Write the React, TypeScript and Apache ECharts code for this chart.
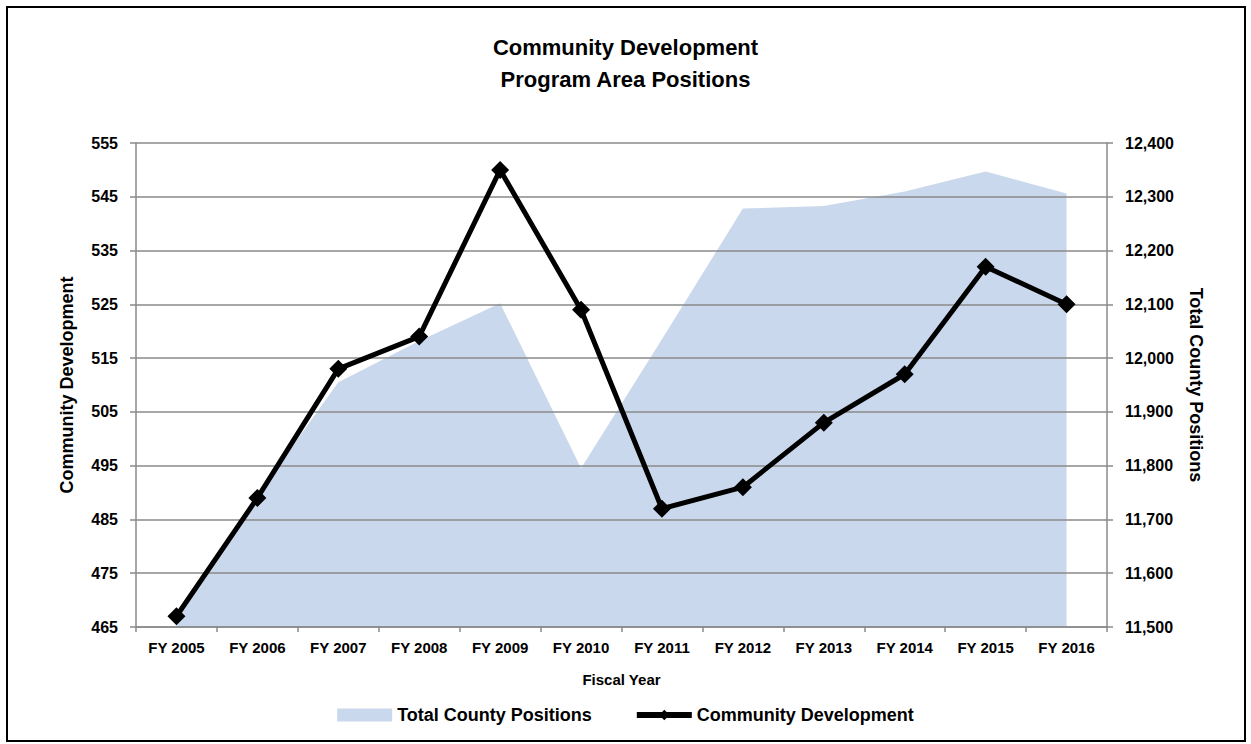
import React, { useEffect, useRef } from "react";
import * as echarts from "echarts";

const categories = ["FY 2005", "FY 2006", "FY 2007", "FY 2008", "FY 2009", "FY 2010", "FY 2011", "FY 2012", "FY 2013", "FY 2014", "FY 2015", "FY 2016"];
const communityDevelopment = [467, 489, 513, 519, 550, 524, 487, 491, 503, 512, 532, 525];
const totalCountyPositions = [11510, 11745, 11955, 12032, 12102, 11795, 12035, 12278, 12283, 12310, 12347, 12306];
const leftTicks = [465, 475, 485, 495, 505, 515, 525, 535, 545, 555];

const FONT = "'Liberation Sans', Arial, sans-serif";
const AREA = "#c9d8ec";

export default function App() {
  const ref = useRef<HTMLDivElement>(null);
  useEffect(() => {
    if (!ref.current) return;
    const chart = echarts.init(ref.current, null, { renderer: "svg" });
    const axisGray = "#8a8a8a";
    chart.setOption({
      animation: false,
      backgroundColor: "#ffffff",
      textStyle: { fontFamily: FONT },
      title: {
        text: "Community Development\nProgram Area Positions",
        left: "center",
        top: 26,
        textStyle: { fontFamily: FONT, fontSize: 22, fontWeight: "bold", color: "#000", lineHeight: 32 },
      },
      legend: {
        bottom: 15,
        left: "center",
        itemWidth: 55,
        itemHeight: 13,
        itemGap: 42,
        textStyle: { fontFamily: FONT, fontSize: 18, fontWeight: "bold", color: "#000" },
        data: [
          { name: "Total County Positions", icon: "rect", itemStyle: { color: AREA } },
          { name: "Community Development", lineStyle: { width: 6, color: "#000" } },
        ],
      },
      grid: { left: 136, right: 144, top: 143, bottom: 117, containLabel: false },
      xAxis: {
        type: "category",
        data: categories,
        boundaryGap: true,
        name: "Fiscal Year",
        nameLocation: "middle",
        nameGap: 45,
        nameTextStyle: { fontFamily: FONT, fontSize: 15, fontWeight: "bold", color: "#000" },
        axisLine: { lineStyle: { color: axisGray, width: 1.5 } },
        axisTick: { show: true, length: 5, lineStyle: { color: axisGray, width: 1.5 } },
        axisLabel: { interval: 0, fontFamily: FONT, fontSize: 15, fontWeight: "bold", color: "#000", margin: 13 },
        splitLine: { show: false },
        z: 2,
      },
      yAxis: [
        {
          type: "value",
          position: "left",
          min: 465,
          max: 555,
          name: "Community Development",
          nameLocation: "middle",
          nameRotate: 90,
          nameGap: 60,
          nameTextStyle: { fontFamily: FONT, fontSize: 18, fontWeight: "bold", color: "#000" },
          axisLine: { show: true, lineStyle: { color: axisGray, width: 1.5 } },
          axisTick: { show: true, length: 6, customValues: leftTicks, lineStyle: { color: axisGray, width: 1.5 } },
          axisLabel: { customValues: leftTicks, fontFamily: FONT, fontSize: 16, fontWeight: "bold", color: "#000", margin: 18 },
          splitLine: { show: false },
          z: 2,
        },
        {
          type: "value",
          position: "right",
          min: 11500,
          max: 12400,
          interval: 100,
          name: "Total County Positions",
          nameLocation: "middle",
          nameRotate: -90,
          nameGap: 80,
          nameTextStyle: { fontFamily: FONT, fontSize: 18, fontWeight: "bold", color: "#000" },
          axisLine: { show: true, lineStyle: { color: axisGray, width: 1.5 } },
          axisTick: { show: true, length: 6, lineStyle: { color: axisGray, width: 1.5 } },
          axisLabel: {
            fontFamily: FONT,
            fontSize: 16,
            fontWeight: "bold",
            color: "#000",
            margin: 18,
            formatter: (v: number) => v.toLocaleString("en-US"),
          },
          splitLine: { show: true, lineStyle: { color: axisGray, width: 1.5 } },
          z: 2,
        },
      ],
      series: [
        {
          name: "Total County Positions",
          type: "line",
          yAxisIndex: 1,
          data: totalCountyPositions,
          symbol: "none",
          lineStyle: { width: 0, color: AREA },
          itemStyle: { color: AREA },
          areaStyle: { color: AREA, opacity: 1, origin: "start" },
          z: 1,
        },
        {
          name: "Community Development",
          type: "line",
          yAxisIndex: 0,
          data: communityDevelopment,
          symbol: "diamond",
          symbolSize: 18,
          lineStyle: { width: 5, color: "#000" },
          itemStyle: { color: "#000" },
          z: 3,
        },
      ],
      graphic: [
        {
          type: "rect",
          shape: { x: 7, y: 7, width: 1238, height: 734 },
          style: { fill: "none", stroke: "#000", lineWidth: 2 },
          silent: true,
        },
      ],
    });
    return () => chart.dispose();
  }, []);
  return (
    <div
      ref={ref}
      style={{ position: "fixed", left: 0, top: 0, width: 1251, height: 744, background: "#fff" }}
    />
  );
}
